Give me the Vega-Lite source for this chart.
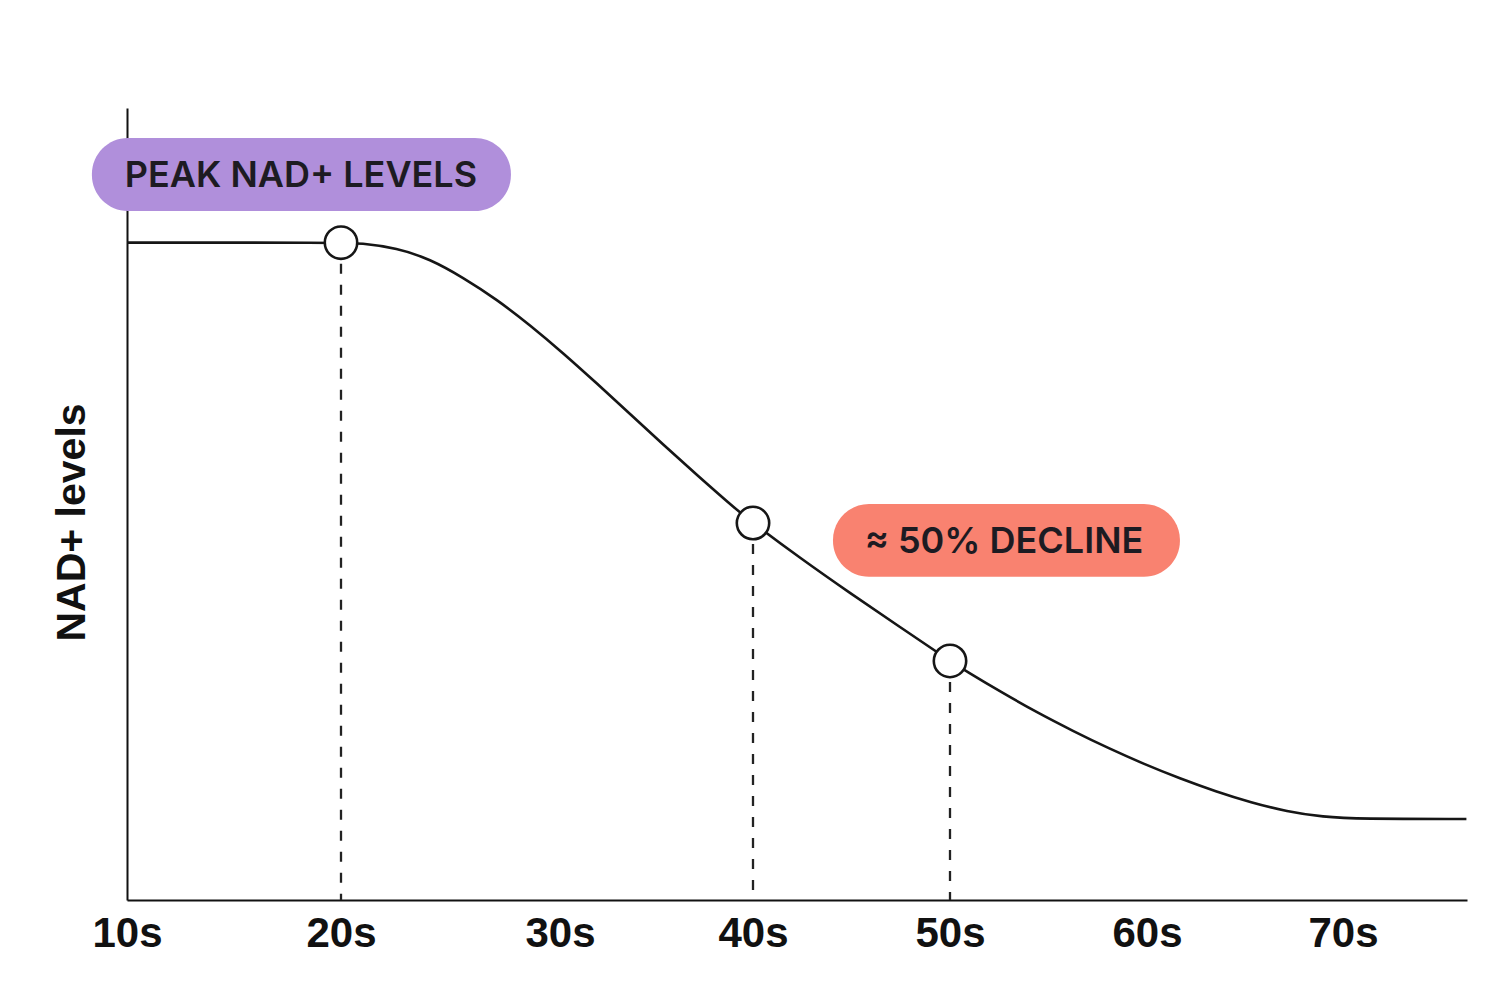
{
  "$schema": "https://vega.github.io/schema/vega-lite/v6.json",
  "width": 1340,
  "height": 792,
  "autosize": "none",
  "padding": {"left": 127, "top": 108, "right": 33, "bottom": 106},
  "background": "white",
  "config": {
    "view": {"stroke": null},
    "font": "Liberation Sans"
  },
  "datasets": {
    "curve": [
      {"age": 10, "level": 83.0},
      {"age": 20, "level": 83.0},
      {"age": 20.87, "level": 82.95},
      {"age": 22.56, "level": 82.32},
      {"age": 24.06, "level": 80.93},
      {"age": 25.57, "level": 78.6},
      {"age": 27.12, "level": 75.82},
      {"age": 28.63, "level": 72.6},
      {"age": 30.16, "level": 69.07},
      {"age": 31.92, "level": 65.21},
      {"age": 33.63, "level": 61.36},
      {"age": 35.34, "level": 57.51},
      {"age": 37.10, "level": 53.66},
      {"age": 39.22, "level": 49.12},
      {"age": 40, "level": 47.6},
      {"age": 42.39, "level": 43.18},
      {"age": 44.92, "level": 38.76},
      {"age": 47.46, "level": 34.47},
      {"age": 50, "level": 30.18},
      {"age": 50.81, "level": 28.91},
      {"age": 52.59, "level": 26.26},
      {"age": 54.42, "level": 23.67},
      {"age": 56.24, "level": 21.34},
      {"age": 58.07, "level": 19.13},
      {"age": 59.85, "level": 17.17},
      {"age": 61.68, "level": 15.34},
      {"age": 63.52, "level": 13.7},
      {"age": 65.31, "level": 12.31},
      {"age": 67.14, "level": 11.17},
      {"age": 68.98, "level": 10.48},
      {"age": 70.82, "level": 10.23},
      {"age": 76.3, "level": 10.23}
    ],
    "markers": [
      {"age": 20, "level": 83.0},
      {"age": 40, "level": 47.6},
      {"age": 50, "level": 30.18}
    ],
    "labels": [
      {"name": "peak", "text": "PEAK NAD+ LEVELS", "x0": 8.36, "x1": 27.76, "y0": 87.0, "y1": 96.2, "xm": 18.13, "ym": 91.4},
      {"name": "decline", "text": "≈ 50% DECLINE", "x0": 44.06, "x1": 61.68, "y0": 40.8, "y1": 50.0, "xm": 52.74, "ym": 45.2}
    ]
  },
  "layer": [
    {
      "data": {"name": "labels"},
      "mark": {"type": "rect", "cornerRadius": 36},
      "encoding": {
        "x": {"field": "x0", "type": "quantitative"},
        "x2": {"field": "x1"},
        "y": {"field": "y0", "type": "quantitative"},
        "y2": {"field": "y1"},
        "color": {
          "field": "name",
          "type": "nominal",
          "scale": {"domain": ["peak", "decline"], "range": ["#b08fdb", "#f98270"]},
          "legend": null
        }
      }
    },
    {
      "data": {"name": "markers"},
      "mark": {"type": "rule", "strokeDash": [10, 11], "strokeWidth": 2.3, "color": "#222"},
      "encoding": {
        "x": {"field": "age", "type": "quantitative"},
        "y": {"field": "level", "type": "quantitative"},
        "y2": {"datum": 0}
      }
    },
    {
      "data": {"name": "curve"},
      "mark": {"type": "line", "interpolate": "basis", "color": "#161616", "strokeWidth": 2.6},
      "encoding": {
        "x": {
          "field": "age",
          "type": "quantitative",
          "scale": {
            "domain": [10, 20, 30, 40, 50, 60, 70, 76.33],
            "range": [0, 214, 433, 626, 823, 1020, 1216, 1340],
            "zero": false,
            "nice": false
          },
          "axis": {
            "title": null,
            "values": [10, 20, 30, 40, 50, 60, 70],
            "labelExpr": "datum.value + 's'",
            "ticks": false,
            "grid": false,
            "domainColor": "#111",
            "domainWidth": 2,
            "labelFont": "Liberation Sans",
            "labelFontSize": 42,
            "labelFontWeight": "bold",
            "labelColor": "#111",
            "labelPadding": 13,
            "labelFlush": false,
            "labelOverlap": false
          }
        },
        "y": {
          "field": "level",
          "type": "quantitative",
          "scale": {"domain": [0, 100], "zero": false, "nice": false},
          "axis": {
            "title": "NAD+ levels",
            "labels": false,
            "ticks": false,
            "grid": false,
            "domainColor": "#111",
            "domainWidth": 2,
            "titleFont": "Liberation Sans",
            "titleFontSize": 41,
            "titleFontWeight": "bold",
            "titleColor": "#111",
            "titleAngle": -90,
            "titleX": -55,
            "titleY": 414,
            "titleAlign": "center",
            "titleBaseline": "middle"
          }
        }
      }
    },
    {
      "data": {"name": "markers"},
      "mark": {"type": "point", "shape": "circle", "filled": true, "fill": "white", "stroke": "#161616", "strokeWidth": 2.6, "size": 1050, "opacity": 1},
      "encoding": {
        "x": {"field": "age", "type": "quantitative"},
        "y": {"field": "level", "type": "quantitative"}
      }
    },
    {
      "data": {"name": "labels"},
      "mark": {"type": "text", "font": "Inter", "fontSize": 36, "fontWeight": 600, "color": "#1d1b22", "align": "center", "baseline": "middle"},
      "encoding": {
        "x": {"field": "xm", "type": "quantitative"},
        "y": {"field": "ym", "type": "quantitative"},
        "text": {"field": "text"}
      }
    }
  ]
}
